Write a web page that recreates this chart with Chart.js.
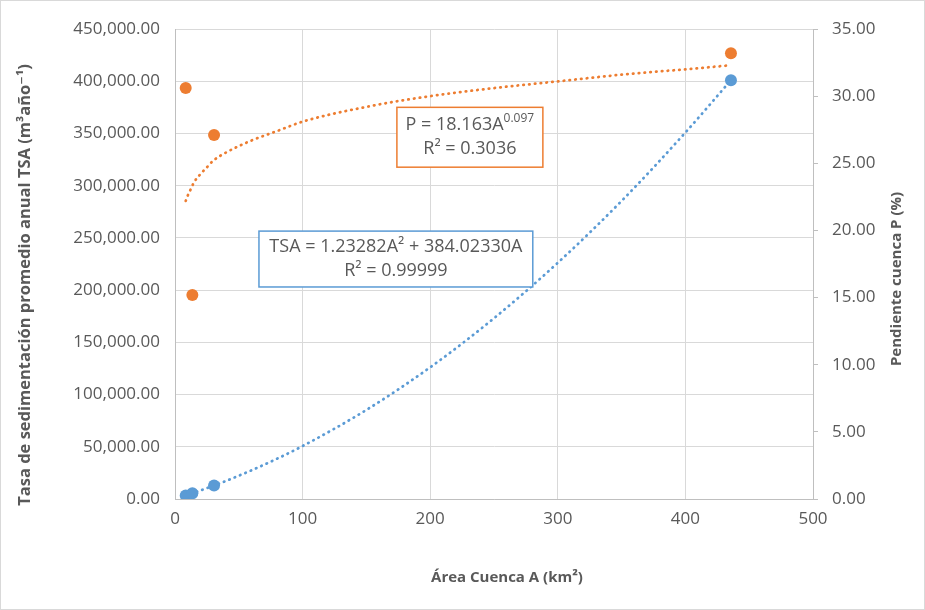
<!DOCTYPE html>
<html>
<head>
<meta charset="utf-8">
<script src="https://cdn.jsdelivr.net/npm/chart.js@4.4.0/dist/chart.umd.min.js"></script>
<style>
  html, body { margin: 0; padding: 0; background: #fff; }
  #wrap { width: 925px; height: 610px; }
</style>
</head>
<body>
<div id="wrap"><canvas id="myChart" width="925" height="610"></canvas></div>
<script>
// Datos medidos (area de cuenca, tasa de sedimentacion, pendiente)
const areaKm2 = [8.4, 13.6, 30.6, 435.7];
const tsaValues = [3300, 5500, 12900, 401000];
const pendienteValues = [30.6, 15.2, 27.1, 33.2];

// Lineas de tendencia
const trendArea = [8.4, 10, 12, 15, 20, 25, 30, 40, 60, 80, 100, 150, 200, 250, 300, 350, 400, 435.7];
const trendTSA = [3300, 4000, 4800, 6000, 8200, 10400, 12600, 17300, 27500, 38600, 50700, 85300, 126100, 173100, 226200, 285400, 350900, 401000];
const trendP = [22.2, 22.6, 23.0, 23.6, 24.2, 24.7, 25.2, 25.8, 26.7, 27.4, 28.1, 29.2, 30.0, 30.6, 31.1, 31.6, 32.0, 32.3];

const xTicks = [0, 100, 200, 300, 400, 500];

const ORANGE = '#ED7D31';
const BLUE = '#5B9BD5';
const TEXT = '#595959';
const FONT = '"Open Sans", "DejaVu Sans", sans-serif';

function toXY(xs, ys) {
    return xs.map((x, i) => ({ x: x, y: ys[i] }));
}

// Cuadros de ecuaciones (en coordenadas de datos)
const eqBoxes = [
    { color: ORANGE, x0: 173.9, x1: 288.3, y0: 375000, y1: 317700,
      lines: [[['P = 18.163A', false], ['0.097', true]], [['R² = 0.3036', false]]] },
    { color: BLUE, x0: 65.8, x1: 280.4, y0: 256500, y1: 203000,
      lines: [[['TSA = 1.23282A² + 384.02330A', false]], [['R² = 0.99999', false]]] }
];

const boxPlugin = {
    id: 'eqBoxes',
    beforeDraw(chart) {
        const c = chart.ctx;
        c.save();
        c.fillStyle = '#fff';
        c.fillRect(0, 0, chart.width, chart.height);
        c.strokeStyle = '#d9d9d9';
        c.lineWidth = 1;
        c.strokeRect(0.5, 0.5, chart.width - 1, chart.height - 1);
        c.restore();
    },
    afterDatasetsDraw(chart) {
        const c = chart.ctx;
        const xs = chart.scales.x, ys = chart.scales.y;
        c.save();
        eqBoxes.forEach(b => {
            const l = xs.getPixelForValue(b.x0), r = xs.getPixelForValue(b.x1);
            const t = ys.getPixelForValue(b.y0), btm = ys.getPixelForValue(b.y1);
            c.fillStyle = '#fff';
            c.fillRect(l, t, r - l, btm - t);
            c.strokeStyle = b.color;
            c.lineWidth = 1.5;
            c.strokeRect(l, t, r - l, btm - t);
            const cx = (l + r) / 2, cy = (t + btm) / 2;
            c.fillStyle = TEXT;
            c.textBaseline = 'middle';
            c.textAlign = 'left';
            b.lines.forEach((parts, i) => {
                const y = cy + (i === 0 ? -12 : 12);
                let w = 0;
                parts.forEach(p => {
                    c.font = (p[1] ? '12px ' : '18px ') + FONT;
                    w += c.measureText(p[0]).width;
                });
                let x = cx - w / 2;
                parts.forEach(p => {
                    c.font = (p[1] ? '12px ' : '18px ') + FONT;
                    c.fillText(p[0], x, p[1] ? y - 7 : y);
                    x += c.measureText(p[0]).width;
                });
            });
        });

        // Titulos de ejes
        const a = chart.chartArea;
        const midX = (a.left + a.right) / 2, midY = (a.top + a.bottom) / 2;
        c.fillStyle = TEXT;
        c.textAlign = 'center';
        c.textBaseline = 'middle';
        c.font = 'bold 15px ' + FONT;
        c.fillText('Área Cuenca A (km²)', midX + 13, 578);
        c.save();
        c.translate(897, midY + 15);
        c.rotate(-Math.PI / 2);
        c.fillText('Pendiente cuenca P (%)', 0, 0);
        c.restore();
        c.save();
        c.font = 'bold 16.5px ' + FONT;
        c.translate(25, midY + 21);
        c.rotate(-Math.PI / 2);
        c.fillText('Tasa de sedimentación promedio anual TSA (m³año⁻¹)', 0, 0);
        c.restore();
        c.restore();
    }
};

const ctx = document.getElementById('myChart').getContext('2d');
const myChart = new Chart(ctx, {
    type: 'scatter',
    data: {
        datasets: [
            {
                label: 'Tendencia P',
                data: toXY(trendArea, trendP),
                yAxisID: 'y2',
                showLine: true,
                pointRadius: 0,
                borderColor: ORANGE,
                borderWidth: 2.75,
                borderDash: [0.5, 5.3],
                borderCapStyle: 'round',
                cubicInterpolationMode: 'monotone',
                order: 3
            },
            {
                label: 'Tendencia TSA',
                data: toXY(trendArea, trendTSA),
                yAxisID: 'y',
                showLine: true,
                pointRadius: 0,
                borderColor: BLUE,
                borderWidth: 2.75,
                borderDash: [0.5, 5.3],
                borderCapStyle: 'round',
                cubicInterpolationMode: 'monotone',
                order: 4
            },
            {
                label: 'P',
                data: toXY(areaKm2, pendienteValues),
                yAxisID: 'y2',
                pointRadius: 6,
                pointBackgroundColor: ORANGE,
                pointBorderColor: ORANGE,
                pointBorderWidth: 0,
                order: 1
            },
            {
                label: 'TSA',
                data: toXY(areaKm2, tsaValues),
                yAxisID: 'y',
                pointRadius: 6,
                pointBackgroundColor: BLUE,
                pointBorderColor: BLUE,
                pointBorderWidth: 0,
                order: 2
            }
        ]
    },
    options: {
        responsive: false,
        animation: false,
        layout: { padding: { top: 29, left: 0, right: 0, bottom: 0 } },
        plugins: {
            legend: { display: false },
            tooltip: { enabled: false }
        },
        scales: {
            x: {
                type: 'linear',
                min: 0,
                max: 500,
                afterFit: s => { s.height = 111; },
                afterBuildTicks: s => { s.ticks = xTicks.map(v => ({ value: v })); },
                grid: { color: '#d9d9d9', drawTicks: false },
                border: { color: '#bfbfbf' },
                ticks: { color: TEXT, font: { family: FONT, size: 17 }, padding: 10 }
            },
            y: {
                position: 'left',
                min: 0,
                max: 450000,
                afterFit: s => { s.width = 175; },
                grid: { color: '#d9d9d9', drawTicks: false },
                border: { color: '#bfbfbf' },
                ticks: {
                    stepSize: 50000,
                    color: TEXT,
                    font: { family: FONT, size: 17 },
                    padding: 15,
                    callback: v => v.toLocaleString('en-US', { minimumFractionDigits: 2, maximumFractionDigits: 2 })
                }
            },
            y2: {
                position: 'right',
                min: 0,
                max: 35,
                afterFit: s => { s.width = 112; },
                grid: { drawOnChartArea: false, color: '#bfbfbf', tickLength: 5 },
                border: { color: '#bfbfbf' },
                ticks: {
                    stepSize: 5,
                    color: TEXT,
                    font: { family: FONT, size: 17 },
                    padding: 14,
                    callback: v => v.toFixed(2)
                }
            }
        }
    },
    plugins: [boxPlugin]
});
</script>
</body>
</html>
